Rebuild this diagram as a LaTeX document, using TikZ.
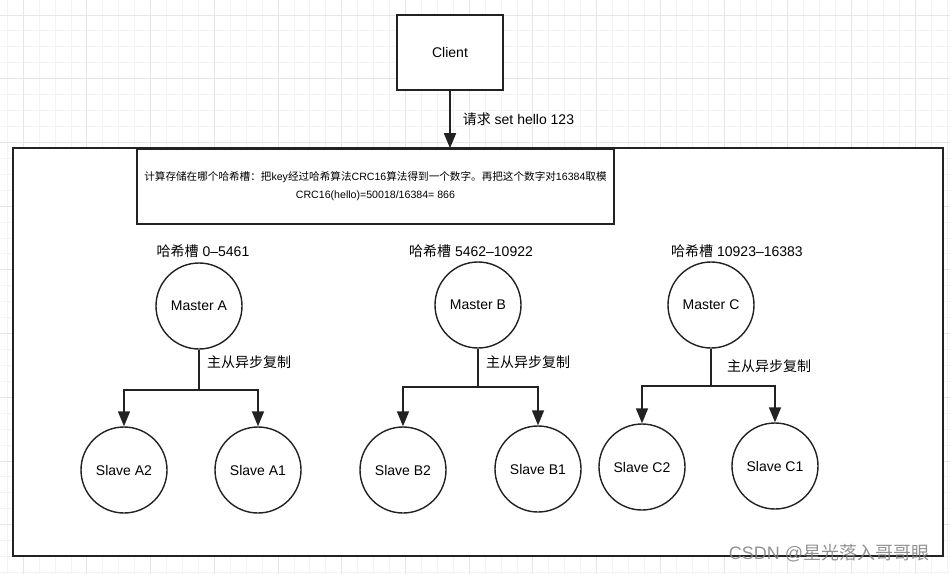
\documentclass[tikz,border=0pt]{standalone}
\usepackage{fontspec}
\setmainfont{Liberation Sans}
\newfontfamily\cjk{Noto Sans CJK SC}
\usepackage{tikz}
\usetikzlibrary{arrows.meta,positioning}
\definecolor{gridmin}{HTML}{F3F3F3}
\definecolor{gridmaj}{HTML}{E6E6E6}
\definecolor{ink}{HTML}{222222}
\tikzset{
  box/.style={rectangle, draw=ink, fill=white, line width=1.6pt, inner sep=0pt},
  client/.style={box, minimum width=106pt, minimum height=75pt, font=\fontsize{14}{16}\selectfont},
  hashbox/.style={box, minimum width=477pt, minimum height=75pt, align=center, font=\fontsize{10.6}{18}\selectfont},
  redis/.style={circle, draw=ink, fill=white, line width=1.4pt, minimum size=86pt, inner sep=0pt, font=\fontsize{14}{16}\selectfont},
  lab/.style={font=\fontsize{14}{16}\selectfont, inner sep=0pt},
  line/.style={draw=ink, line width=1.6pt, -{Triangle[width=12pt,length=15pt]}},
  link/.style={draw=ink, line width=1.6pt},
}
\begin{document}
\begin{tikzpicture}[x=1pt,y=-1pt]
\useasboundingbox (0,0) rectangle (950,574);
% grid in the back
\foreach \i in {0,...,59} \draw[gridmin, line width=1pt] ({7.3+15.93*\i},0) -- ++(0,574);
\foreach \i in {0,...,35} \draw[gridmin, line width=1pt] (0,{15+15.93*\i}) -- ++(950,0);
\foreach \i in {0,...,14} \draw[gridmaj, line width=1pt] ({23.23+63.72*\i},0) -- ++(0,574);
\foreach \i in {0,...,8} \draw[gridmaj, line width=1pt] (0,{15+63.72*\i}) -- ++(950,0);

  \node[box, minimum width=930pt, minimum height=408pt] (cluster) at (478,352) {};
  \node[client] (client) at (450,52.5) {Client};
  \node[hashbox] (hash) at (375.5,186.5) {{\cjk 计算存储在哪个哈希槽：把}key{\cjk 经过哈希算法}CRC16{\cjk 算法得到一个数字。再把这个数字对}16384{\cjk 取模}\\CRC16(hello)=50018/16384= 866};
  \path[line] (client) -- node[lab, anchor=west, xshift=12pt] (req) {{\cjk 请求} set hello 123} (client |- hash.north);

  % slot A
  \node[lab] (slotA) at (203,251) {{\cjk 哈希槽} 0--5461};
  \node[redis] (mA) at (199,306) {Master A};
  \node[redis] (sA2) at (124,470) {Slave A2};
  \node[redis] (sA1) at (258,470) {Slave A1};
  \coordinate (jA) at (199,390);
  \path[link] (mA) -- (jA);
  \node[lab, anchor=west] (repA) at (207,362) {\cjk 主从异步复制};
  \path[line] (jA) -| (sA2);
  \path[line] (jA) -| (sA1);

  % slot B
  \node[lab] (slotB) at (471,251) {{\cjk 哈希槽} 5462--10922};
  \node[redis] (mB) at (478,305) {Master B};
  \node[redis] (sB2) at (403,470) {Slave B2};
  \node[redis] (sB1) at (538,469) {Slave B1};
  \coordinate (jB) at (478,387);
  \path[link] (mB) -- (jB);
  \node[lab, anchor=west] (repB) at (486,362) {\cjk 主从异步复制};
  \path[line] (jB) -| (sB2);
  \path[line] (jB) -| (sB1);

  % slot C
  \node[lab] (slotC) at (737,251) {{\cjk 哈希槽} 10923--16383};
  \node[redis] (mC) at (711,305) {Master C};
  \node[redis] (sC2) at (642,467) {Slave C2};
  \node[redis] (sC1) at (775,466) {Slave C1};
  \coordinate (jC) at (711,386);
  \path[link] (mC) -- (jC);
  \node[lab, anchor=west] (repC) at (727,366) {\cjk 主从异步复制};
  \path[line] (jC) -| (sC2);
  \path[line] (jC) -| (sC1);

  \node[font=\fontsize{18}{20}\selectfont, text=gray, opacity=0.85] (mark) at (829,553) {CSDN @{\cjk 星光落入哥哥眼}};
\end{tikzpicture}
\end{document}
